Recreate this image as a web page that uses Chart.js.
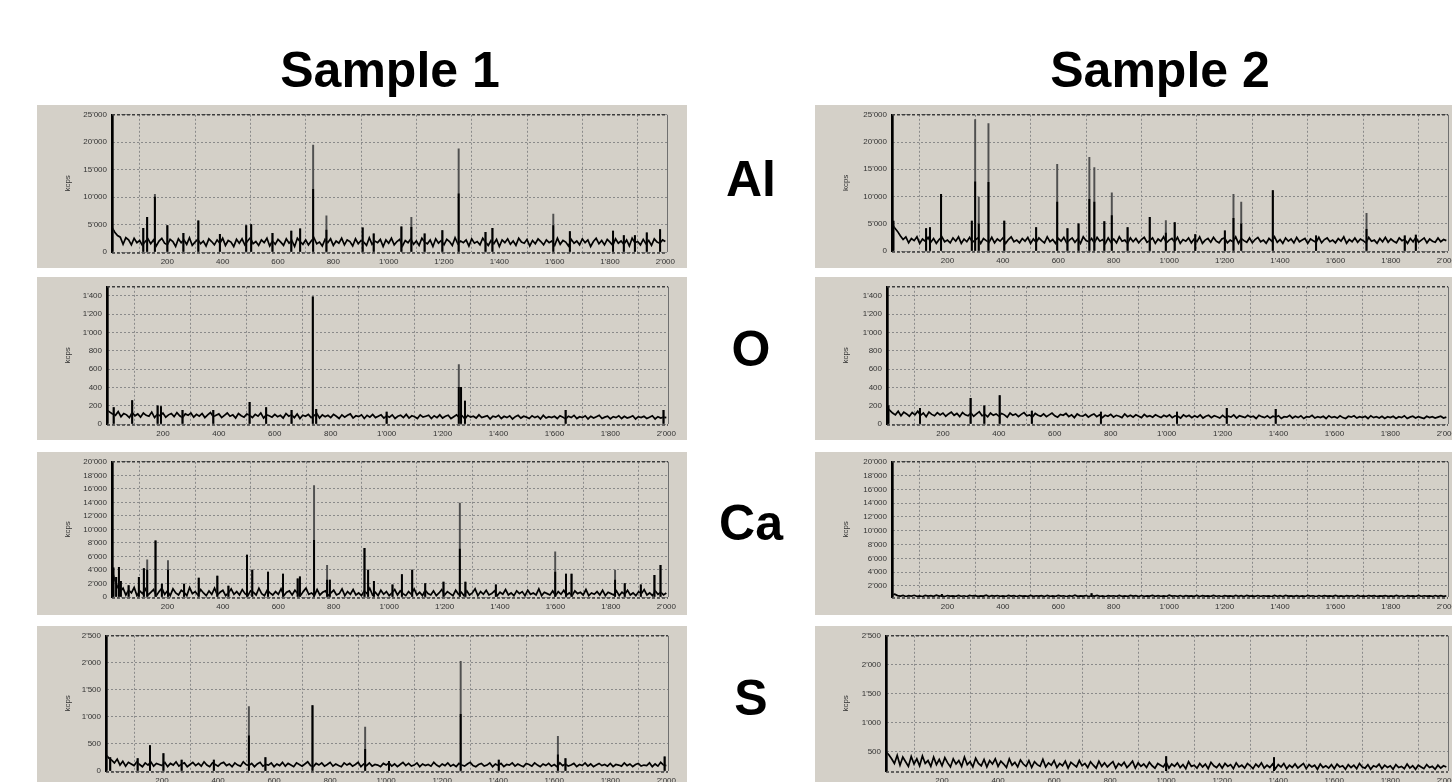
<!DOCTYPE html>
<html>
<head>
<meta charset="utf-8">
<script src="https://cdn.jsdelivr.net/npm/chart.js@4.4.1/dist/chart.umd.min.js"></script>
<style>
body { margin: 0; width: 1452px; height: 782px; overflow: hidden; background: #fff; position: relative; font-family: "Liberation Sans", Arial, sans-serif; }
.t { position: absolute; font-weight: bold; font-size: 50px; line-height: 50px; text-align: center; color: #000; }
.p { position: absolute; background: #d4d0c8; overflow: hidden; }
</style>
</head>
<body>
<div class="t" style="left:190px;top:45px;width:400px">Sample 1</div>
<div class="t" style="left:960px;top:45px;width:400px">Sample 2</div>
<div class="t" style="left:690px;top:154px;width:122px">Al</div>
<div class="t" style="left:690px;top:324px;width:122px">O</div>
<div class="t" style="left:690px;top:498px;width:122px">Ca</div>
<div class="t" style="left:690px;top:673px;width:122px">S</div>

<div class="p" style="left:37px;top:105px;width:650px;height:163px"><canvas id="al1" width="650" height="163"></canvas></div>
<div class="p" style="left:37px;top:277px;width:650px;height:163px"><canvas id="o1" width="650" height="163"></canvas></div>
<div class="p" style="left:37px;top:452px;width:650px;height:163px"><canvas id="ca1" width="650" height="163"></canvas></div>
<div class="p" style="left:37px;top:626px;width:650px;height:163px"><canvas id="s1" width="650" height="163"></canvas></div>
<div class="p" style="left:815px;top:105px;width:651px;height:163px"><canvas id="al2" width="651" height="163"></canvas></div>
<div class="p" style="left:815px;top:277px;width:651px;height:163px"><canvas id="o2" width="651" height="163"></canvas></div>
<div class="p" style="left:815px;top:452px;width:651px;height:163px"><canvas id="ca2" width="651" height="163"></canvas></div>
<div class="p" style="left:815px;top:626px;width:651px;height:163px"><canvas id="s2" width="651" height="163"></canvas></div>

<script>
// channel spacing of the baseline samples (x axis units)
var channelStep = 10;
var xTicks = [200, 400, 600, 800, 1000, 1200, 1400, 1600, 1800, 2000];
var ticksAl = [0, 5000, 10000, 15000, 20000, 25000];
var ticksO = [0, 200, 400, 600, 800, 1000, 1200, 1400];
var ticksCa1 = [0, 2000, 4000, 6000, 8000, 10000, 12000, 14000, 16000, 18000, 20000];
var ticksCa2 = [2000, 4000, 6000, 8000, 10000, 12000, 14000, 16000, 18000, 20000];
var ticksS1 = [0, 500, 1000, 1500, 2000, 2500];
var ticksS2 = [500, 1000, 1500, 2000, 2500];

// ---- Sample 1 ----
var baseAl1 = [4500,3600,3000,2700,1400,2600,2200,1300,2500,1700,2100,1200,1900,2400,1500,2200,1100,2000,2500,1600,
  1300,2300,1900,1000,2400,1700,2200,1400,2600,1200,1800,2300,1500,2000,1100,2400,1900,1300,2200,1600,
  2500,1200,2100,1800,1000,2300,1600,2400,1300,2000,2600,1500,1900,1200,2200,1700,2500,1100,2000,1400,
  2300,1800,1200,2400,1600,2100,1000,2500,1900,1400,2200,1300,2000,2600,1500,1800,1100,2300,1700,2400,
  1200,2000,1600,2500,1300,2200,1900,1100,2400,1500,2100,1800,1200,2600,1400,2000,1700,2300,1000,2200,
  1600,2500,1300,1900,2300,1100,2100,1700,2400,1400,2000,1200,2500,1800,1500,2200,1000,2400,1600,2100,
  1300,2300,1900,1200,2600,1500,2000,1700,2200,1100,2400,1600,1900,1300,2500,1800,1200,2100,1500,2300,
  1000,2200,1700,2400,1400,2000,1200,2500,1800,1600,2300,1100,2100,1500,2400,1900,1300,2200,1700,2000,
  1200,2500,1400,2100,1800,1100,2300,1600,2000,1300,2400,1700,2200,1000,1900,2500,1500,2100,1300,2300,
  1800,1200,2400,1600,2000,1400,2200,1100,2500,1700,1900,1300,2300,1500,2100,1200,2400,1800,1600,2200,1900];
var peakPosAl1 = [2,113,127,155,200,258,312,390,485,503,580,648,680,727,775,906,946,1046,1082,1130,1194,1253,1350,1375,1595,1655,1811,1850,1890,1933,1981];
var peakTopAl1 = [25000,4300,6300,10500,4800,3400,5700,3200,4800,5000,3400,3800,4200,19500,6600,4400,3300,4600,6300,3300,3900,18800,3600,4300,6900,3700,3800,3000,3000,3500,4100];
var peakCoreAl1 = [25000,4300,6300,10000,4800,3400,5700,3200,4800,5000,3400,3800,4200,11400,4000,4400,3300,4600,4500,3300,3900,10600,3600,4300,4800,3700,3800,3000,3000,3500,4100];

var baseO1 = [150,130,110,95,135,80,115,100,70,125,90,110,75,120,95,85,130,70,105,90,
  120,75,100,115,80,125,90,70,110,95,120,75,105,85,115,70,100,125,80,95,
  110,70,95,120,85,100,65,115,90,75,110,95,70,105,85,120,65,100,90,75,
  105,80,95,65,115,85,100,70,110,60,95,85,105,70,90,115,65,100,80,95,
  70,105,85,60,100,75,95,110,65,90,80,100,60,95,75,105,70,85,100,65,
  90,75,100,60,85,95,70,105,65,90,80,60,100,75,85,95,60,90,70,100,
  65,85,95,60,80,100,70,90,55,95,75,85,65,100,70,80,90,55,85,75,
  95,60,85,70,90,55,80,95,65,85,75,60,90,70,85,55,95,65,80,70,
  85,60,90,75,55,85,70,95,60,80,70,90,55,85,65,80,95,60,75,85,
  55,80,70,90,60,85,65,75,90,55,80,70,85,60,75,90,55,80,65,75,70];
var peakPosO1 = [2,24,90,181,193,270,380,510,569,660,736,748,1000,1258,1266,1280,1640,1990];
var peakTopO1 = [1500,180,255,200,190,150,150,237,180,150,1390,160,130,650,400,250,150,150];
var peakCoreO1 = [1500,180,255,200,190,150,150,237,180,150,1390,160,130,400,400,250,150,150];

var baseCa1 = [4000,2500,1500,800,1300,300,1000,600,1400,200,900,500,1200,300,700,1100,200,800,1300,400,
  900,200,1200,600,300,1000,700,200,1400,500,800,300,1100,600,200,900,400,1300,300,700,
  1000,200,600,1200,400,800,300,1100,500,200,900,700,300,1300,500,200,1000,600,300,800,
  400,1200,200,700,900,300,1000,500,200,800,1300,400,600,200,1100,300,700,900,200,600,
  1000,300,500,1200,200,800,400,1100,300,600,200,900,500,1300,300,700,200,1000,400,800,
  200,600,1100,300,900,500,200,800,400,1200,300,700,200,1000,500,300,900,200,600,1100,
  300,800,500,200,1000,400,700,200,900,300,600,1200,200,800,400,1000,300,500,900,200,
  700,400,1100,300,600,200,900,500,800,200,1000,400,600,300,1200,200,700,500,300,900,
  200,800,400,1000,300,600,200,900,500,700,300,1100,200,600,400,800,300,1000,200,700,
  500,300,900,200,700,400,1000,300,600,200,800,500,1100,300,600,200,900,400,700,300,600];
var peakPosCa1 = [2,5,15,25,32,60,97,115,127,157,180,202,260,313,380,420,487,506,563,617,670,678,729,776,786,911,924,945,1012,1046,1083,1130,1196,1255,1275,1385,1599,1638,1658,1815,1850,1908,1957,1979];
var peakTopCa1 = [20000,4300,2900,4400,2300,1700,2900,4200,5500,8300,1900,5400,1900,2800,3100,1600,6200,4000,3700,3400,2700,3000,16500,4700,2500,7200,4000,2300,1800,3300,4000,2000,2200,13900,2200,1800,6700,3400,3400,4000,2000,1800,3200,4700];
var peakCoreCa1 = [20000,4300,2900,4400,2300,1700,2900,4200,4000,8300,1900,4000,1900,2800,3100,1600,6200,4000,3700,3400,2700,3000,8400,2500,2500,7200,4000,2300,1800,3300,4000,2000,2200,7100,2200,1800,3700,3400,3400,2500,2000,1800,3200,4700];

var baseS1 = [300,240,200,150,220,110,180,90,160,130,100,170,120,80,150,110,170,90,140,120,
  100,160,80,140,110,170,90,130,150,80,120,160,100,140,90,170,110,80,150,120,
  90,140,160,100,130,80,150,110,90,170,120,100,140,80,130,160,90,120,110,150,
  80,130,100,160,90,140,110,80,150,120,90,130,170,100,80,140,110,150,90,120,
  160,90,130,100,80,150,110,140,90,120,160,80,130,100,150,90,120,110,80,140,
  110,150,90,130,80,120,160,100,140,90,110,150,80,130,100,120,90,160,110,80,
  130,100,150,90,120,80,140,110,90,130,160,100,80,120,140,90,110,150,80,130,
  100,140,80,120,110,150,90,130,100,80,140,120,90,150,110,80,130,100,140,90,
  120,80,150,100,130,90,110,140,80,120,100,150,90,130,80,110,140,100,120,90,
  140,80,120,110,90,150,100,130,80,120,140,90,110,100,150,80,130,90,160,110,100];
var peakPosS1 = [2,15,113,157,205,270,385,510,569,737,925,1010,1266,1402,1613,1640,1994];
var peakTopS1 = [2500,250,230,470,320,200,200,1190,250,1210,810,180,2030,200,640,230,260];
var peakCoreS1 = [2500,250,230,470,320,200,200,650,250,1210,400,180,1050,200,300,230,260];

// ---- Sample 2 ----
var baseAl2 = [5000,4200,3600,2800,2100,2600,1500,2300,1900,2600,1400,2200,1800,2500,1600,2300,1400,2100,2600,1700,
  2000,1500,2400,1800,2600,1400,2200,1700,2500,1600,2000,2400,1400,2300,1900,1600,2500,1500,2200,1800,
  2400,1400,2100,2600,1700,2000,1500,2300,1800,2500,1400,2200,1600,2400,1900,1500,2600,1700,2100,1400,
  2300,1800,2500,1500,2000,2400,1600,2200,1400,2600,1900,1700,2300,1500,2500,1800,2100,1400,2400,1600,
  2200,1500,2600,1800,2000,1400,2400,1700,2300,1500,2100,2500,1600,1900,2400,1400,2200,1800,2600,1500,
  2000,2300,1600,2500,1400,2100,1800,2400,1500,2200,1700,2600,1400,2000,2300,1600,2500,1800,1500,2200,
  2400,1500,2000,1700,2600,1400,2300,1900,1600,2400,1500,2100,2500,1700,2000,1400,2300,1800,2600,1600,
  2100,1400,2400,1800,2200,1500,2500,1700,2000,2300,1400,2200,1900,1600,2500,1500,2100,2400,1700,2000,
  1500,2300,1800,2600,1400,2100,1700,2400,1600,2200,1900,1500,2500,1800,2000,1400,2300,1700,2500,1600,
  2200,1800,1500,2400,1900,2100,1400,2300,1700,2500,1600,2000,2400,1500,2200,1800,1600,2400,1700,2100,1900];
var peakPosAl2 = [2,5,123,137,177,288,300,313,348,405,520,596,633,673,712,730,766,793,850,930,988,1020,1094,1201,1232,1260,1374,1530,1712,1850,1890];
var peakTopAl2 = [25000,5500,4100,4300,10400,5500,24100,9900,23400,5500,4300,15900,4100,5000,17200,15300,5400,10700,4300,6200,5600,5200,3000,3700,10400,9000,11100,2800,6900,2800,2900];
var peakCoreAl2 = [25000,5500,4100,4300,10400,5500,12700,5000,12600,5500,4300,9000,4100,5000,9500,9000,5400,6500,4300,6200,3300,5200,3000,3700,6000,5000,11100,2800,4000,2800,2900];

var baseO2 = [180,150,120,100,140,90,130,110,85,125,100,140,95,120,80,130,105,90,125,100,
  120,85,110,130,95,115,80,125,100,90,120,85,110,135,90,105,80,120,95,110,
  85,115,100,75,120,95,110,80,105,125,90,100,75,115,95,85,110,80,100,120,
  90,75,105,95,115,80,100,70,110,90,85,105,75,95,110,80,100,70,95,85,
  105,75,95,85,70,110,80,95,75,100,85,70,105,80,90,75,100,85,70,95,
  80,100,70,90,85,65,100,80,95,70,90,75,100,65,85,95,70,90,80,65,
  95,70,85,75,100,65,90,80,70,95,75,85,60,95,80,70,90,65,85,75,
  90,60,80,75,95,65,85,70,90,60,80,75,95,65,80,70,85,60,90,70,
  80,65,90,70,60,85,75,90,65,80,70,85,60,90,70,80,65,85,60,80,
  70,85,60,80,70,90,60,75,85,65,80,70,60,85,70,80,65,75,85,65,75];
var peakPosO2 = [2,5,118,299,348,403,518,765,1037,1215,1390];
var peakTopO2 = [1500,200,170,280,200,310,140,130,130,170,160];
var peakCoreO2 = [1500,200,170,280,200,310,140,130,130,170,160];

var baseCa2 = [700,800,600,520,640,480,590,530,650,500,570,470,620,540,600,490,650,520,580,470,
  610,530,560,490,640,510,580,470,620,550,600,490,560,520,650,480,590,530,610,500,
  570,480,630,520,590,470,610,540,560,500,640,490,580,520,600,470,630,510,560,490,
  620,530,580,470,600,510,650,490,570,530,610,480,590,520,640,500,560,470,600,530,
  580,490,620,510,560,480,640,530,590,470,610,500,570,540,630,490,600,510,560,480,
  650,520,580,490,610,470,590,540,570,500,620,480,600,530,560,490,640,510,580,470,
  600,530,560,480,620,510,590,470,640,520,570,490,610,500,580,530,560,470,620,510,
  590,480,630,520,570,490,600,510,560,480,640,530,580,470,610,500,590,520,560,490,
  620,500,570,480,600,530,580,470,640,510,560,490,610,520,590,480,570,530,600,500,
  560,490,620,510,580,470,600,530,570,490,640,500,580,520,560,480,610,510,590,500,560];
var peakPosCa2 = [2,180,720];
var peakTopCa2 = [20000,800,900];
var peakCoreCa2 = [20000,800,900];

var baseS2 = [500,450,380,300,440,270,410,330,250,420,290,380,260,430,300,350,250,410,280,370,
  260,400,310,240,380,290,350,250,410,280,330,240,390,300,260,370,240,350,290,380,
  250,340,290,230,380,270,320,240,360,290,250,350,230,330,280,250,370,240,310,270,
  350,230,300,260,340,220,320,280,240,350,260,300,230,330,270,220,340,250,310,240,
  290,330,220,300,260,320,230,280,340,220,310,250,290,230,320,260,220,300,270,240,
  320,220,290,250,310,230,280,210,330,250,270,220,300,240,290,210,320,260,230,290,
  220,300,250,280,210,310,240,270,220,300,260,210,290,240,310,220,270,230,290,210,
  280,240,300,210,270,230,290,220,260,300,210,280,240,270,200,290,230,260,220,280,
  210,290,240,260,200,280,230,270,210,300,240,220,280,200,260,240,290,210,270,230,
  260,200,280,230,250,210,290,220,260,200,270,240,210,280,230,250,200,270,220,260,240];
var peakPosS2 = [2,1000,1385];
var peakTopS2 = [2500,420,400];
var peakCoreS2 = [2500,420,400];

Chart.defaults.font.family = '"Liberation Sans", Arial, sans-serif';
Chart.defaults.color = '#333';

function fmt(v) {
    return String(v).replace(/\B(?=(\d{3})+(?!\d))/g, "'");
}

// dashed frame on top / bottom, thin line on the right
var frame = {
    id: 'frame',
    afterDraw: function (c) {
        var a = c.chartArea, ctx = c.ctx;
        ctx.save();
        ctx.strokeStyle = '#3c3c3c';
        ctx.lineWidth = 1.5;
        ctx.setLineDash([3, 2]);
        ctx.beginPath();
        ctx.moveTo(a.left, a.top); ctx.lineTo(a.right, a.top);
        ctx.moveTo(a.left, a.bottom + 1); ctx.lineTo(a.right, a.bottom + 1);
        ctx.stroke();
        ctx.setLineDash([]);
        ctx.strokeStyle = '#707070';
        ctx.lineWidth = 1;
        ctx.beginPath();
        ctx.moveTo(a.right + 0.5, a.top); ctx.lineTo(a.right + 0.5, a.bottom);
        ctx.stroke();
        ctx.restore();
    }
};

function panel(id, base, pos, top, core, yTicks, yMin, yMax, w, t, hx, r) {
    var ctx = document.getElementById(id).getContext('2d');
    new Chart(ctx, {
        data: {
            datasets: [{
                type: 'bar',
                data: pos.map(function (x, i) { return { x: x, y: core[i] }; }),
                backgroundColor: '#000',
                barThickness: 1.3,
                grouped: false,
                order: 1
            }, {
                type: 'bar',
                data: pos.map(function (x, i) { return { x: x, y: top[i] }; }),
                backgroundColor: '#505050',
                barThickness: 1.3,
                grouped: false,
                order: 2
            }, {
                type: 'line',
                data: base.map(function (v, i) { return { x: i * channelStep, y: v }; }),
                borderColor: '#000',
                borderWidth: 1.7,
                pointRadius: 0,
                tension: 0,
                order: 3
            }]
        },
        options: {
            responsive: false,
            animation: false,
            layout: { padding: { top: t, right: r, left: 26, bottom: 0 } },
            plugins: { legend: { display: false }, tooltip: { enabled: false } },
            scales: {
                x: {
                    type: 'linear', min: 0, max: 2006, offset: false,
                    afterBuildTicks: function (s) { s.ticks = xTicks.map(function (v) { return { value: v }; }); },
                    afterFit: function (s) { s.height = hx; },
                    ticks: { callback: fmt, font: { size: 8 }, padding: 5, maxRotation: 0, autoSkip: false },
                    grid: { color: '#8a8a8a', drawTicks: false },
                    border: { display: false, dash: [2, 2] }
                },
                y: {
                    min: yMin, max: yMax,
                    afterBuildTicks: function (s) { s.ticks = yTicks.map(function (v) { return { value: v }; }); },
                    afterFit: function (s) { s.width = w - 26; },
                    ticks: { callback: fmt, font: { size: 8 }, padding: 5, autoSkip: false },
                    title: { display: true, text: 'kcps', font: { size: 8 }, padding: 0 },
                    grid: { color: '#8a8a8a', drawTicks: false },
                    border: { display: true, color: '#000', width: 2, dash: [2, 2] }
                }
            }
        },
        plugins: [frame]
    });
}

panel('al1', baseAl1, peakPosAl1, peakTopAl1, peakCoreAl1, ticksAl, 0, 25000, 75, 7, 16, 20);
panel('o1', baseO1, peakPosO1, peakTopO1, peakCoreO1, ticksO, 0, 1500, 70, 6, 16, 19);
panel('ca1', baseCa1, peakPosCa1, peakTopCa1, peakCoreCa1, ticksCa1, 0, 20000, 75, 5, 18, 19);
panel('s1', baseS1, peakPosS1, peakTopS1, peakCoreS1, ticksS1, 0, 2500, 69, 7, 18, 19);
panel('al2', baseAl2, peakPosAl2, peakTopAl2, peakCoreAl2, ticksAl, 0, 25000, 77, 7, 17, 18);
panel('o2', baseO2, peakPosO2, peakTopO2, peakCoreO2, ticksO, 0, 1500, 72, 5, 16, 18);
panel('ca2', baseCa2, peakPosCa2, peakTopCa2, peakCoreCa2, ticksCa2, 400, 20000, 77, 5, 18, 18);
panel('s2', baseS2, peakPosS2, peakTopS2, peakCoreS2, ticksS2, 170, 2500, 71, 6, 18, 18);
</script>
</body>
</html>
